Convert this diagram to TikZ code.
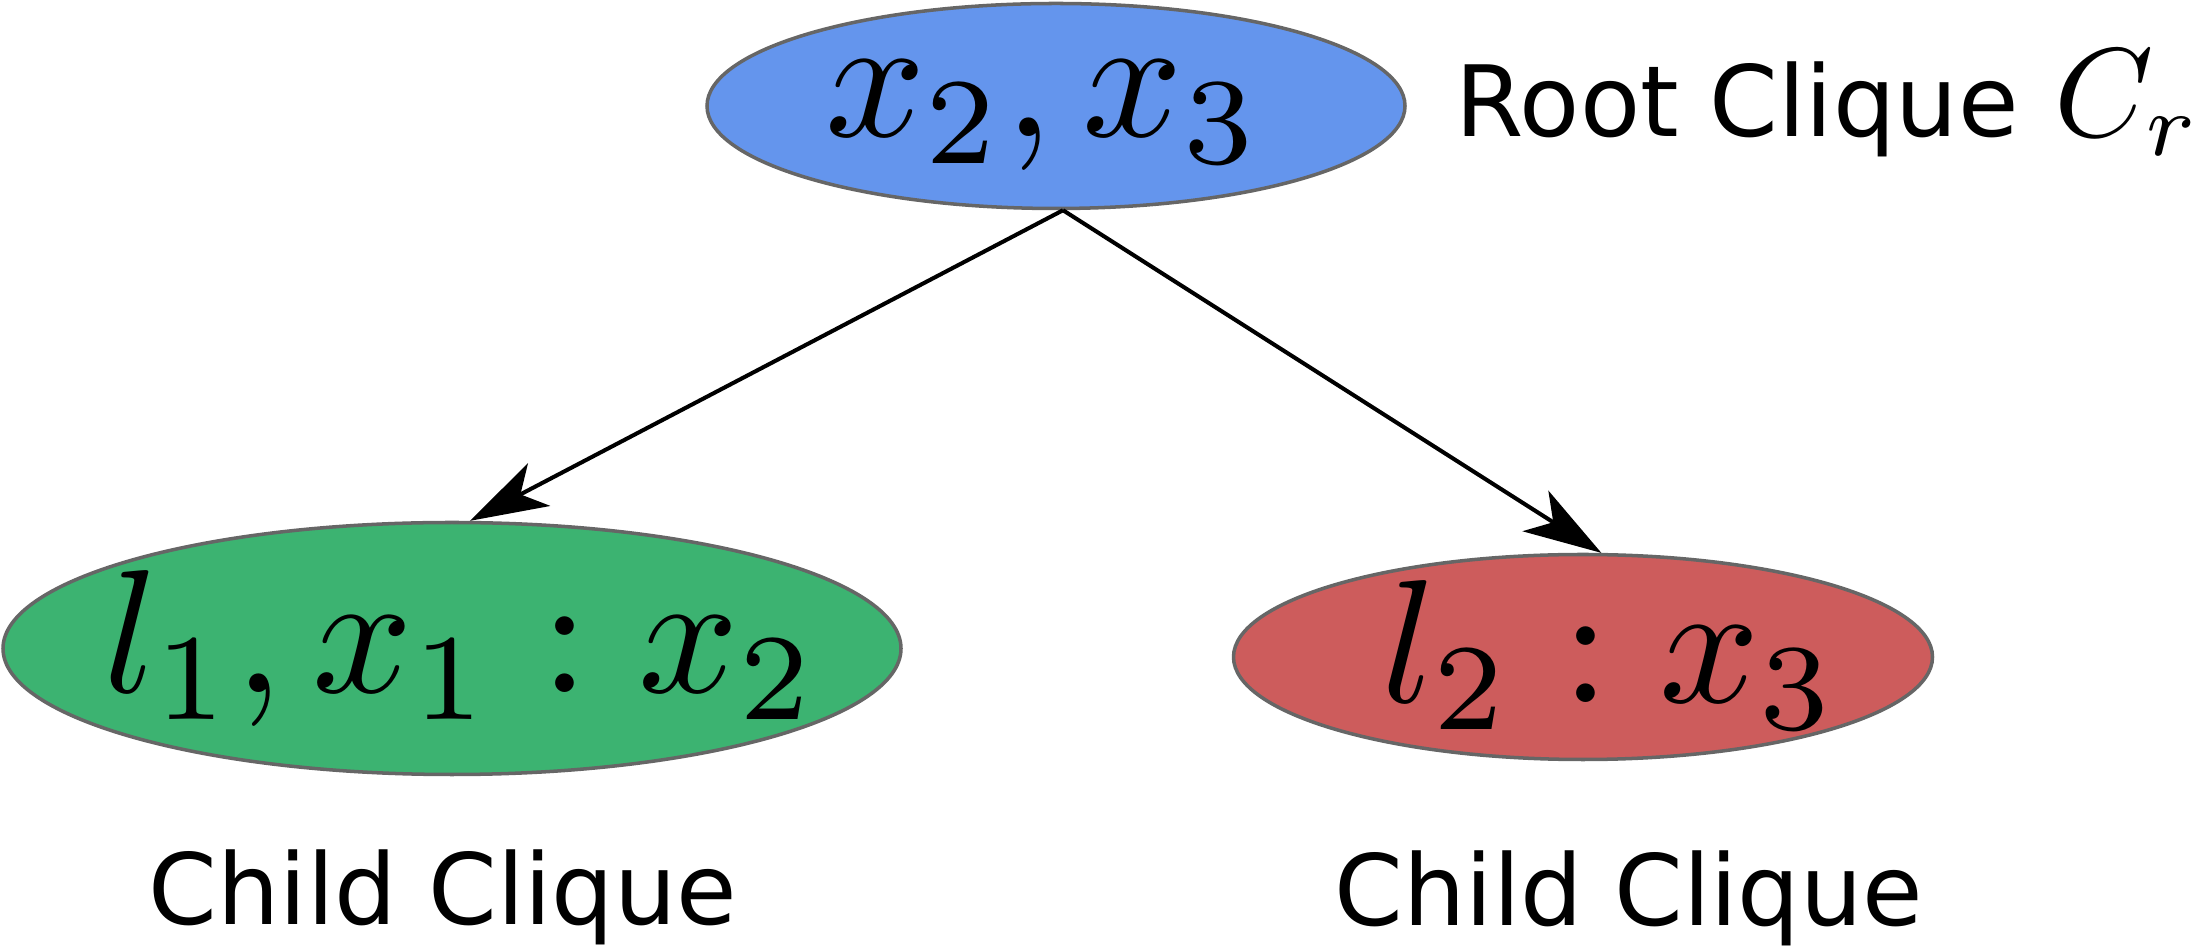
\documentclass[tikz,border=0pt]{standalone}
\usepackage{fontspec}
\newfontfamily\dejavu{DejaVu Sans}
\usetikzlibrary{arrows.meta,shapes.geometric,calc}
\definecolor{rootblue}{HTML}{6495ED}
\definecolor{childgreen}{HTML}{3CB371}
\definecolor{childred}{HTML}{CD5C5C}
\definecolor{rimgray}{HTML}{666666}
\tikzset{
  clique/.style={ellipse, draw=rimgray, line width=1pt, inner sep=0pt},
  mathlabel/.style={inner sep=0pt, anchor=base west, scale=5, transform shape},
  caption/.style={inner sep=0pt, font=\dejavu\fontsize{28}{34}\selectfont},
  link/.style={line width=1.15pt, -{Stealth[length=0.78cm, width=0.48cm, inset=0.21cm]}}
}
\begin{document}
\begin{tikzpicture}
\useasboundingbox (0,0) rectangle (21.91,9.47);
% ellipses
\node[clique, fill=rootblue, minimum width=6.98cm, minimum height=2.05cm] (root) at (10.56,8.41) {};
\node[clique, fill=childgreen, minimum width=8.98cm, minimum height=2.52cm] (green) at (4.52,2.985) {};
\node[clique, fill=childred, minimum width=6.99cm, minimum height=2.05cm] (red) at (15.83,2.90) {};
% labels inside
\node[mathlabel] (rootlab) at (8.22,8.10) {$x_2,x_3$};
\node[mathlabel] (greenlab) at (1.00,2.54) {$l_1,x_1:x_2$};
\node[mathlabel] (redlab) at (13.78,2.44) {$l_2:x_3$};
% captions
\node[caption, anchor=base west] (rootcap) at (14.55,8.10) {Root Clique};
\node[inner sep=0pt, anchor=base west, scale=3.6, transform shape] (cr) at ($(rootcap.base east)+(0.33,0)$) {$C_r$};
\node[caption, anchor=base] (greencap) at (4.43,0.22) {Child Clique};
\node[caption, anchor=base] (redcap) at (16.29,0.21) {Child Clique};
% connectors
\coordinate (apex) at ($(root.south)+(0.07,0)$);
\draw[link] (apex) -- (green.82);
\draw[link] (apex) -- (red.80);
\end{tikzpicture}
\end{document}
